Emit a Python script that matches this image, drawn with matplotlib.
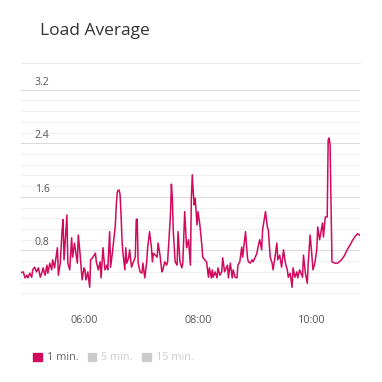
import matplotlib
matplotlib.use("Agg")
import matplotlib.pyplot as plt
import matplotlib.ticker as mticker
from matplotlib.patches import Patch
import numpy as np

plt.rcParams['font.family'] = ['Open Sans', 'DejaVu Sans']

# minutes since midnight, 1-min load average
minutes = [294, 296, 298, 300, 301, 303, 305, 306, 308, 310, 312, 314, 316, 317, 319, 321, 322, 324, 326, 327,
           329, 332, 333, 335, 337, 338, 339, 341, 342, 343, 345, 347, 348, 350, 353, 354, 356, 358, 360, 361,
           362, 364, 366, 367, 369, 372, 373, 375, 377, 378, 380, 382, 384, 385, 387, 388, 390, 393, 394, 395,
           396, 397, 398, 399, 400, 401, 403, 404, 405, 407, 408, 410, 412, 414, 415, 416, 417, 419, 421, 422,
           424, 426, 427, 429, 431, 432, 433, 435, 437, 438, 440, 442, 443, 445, 447, 448, 451, 452, 453, 454,
           456, 458, 459, 461, 463, 464, 466, 467, 468, 470, 472, 473, 474, 475, 476, 477, 479, 480, 482, 484,
           485, 487, 489, 491, 492, 494, 495, 496, 498, 500, 501, 503, 505, 506, 508, 511, 512, 514, 516, 517,
           519, 521, 522, 524, 526, 527, 530, 532, 533, 535, 537, 538, 540, 542, 543, 545, 547, 548, 551, 553,
           554, 556, 558, 559, 561, 563, 564, 566, 568, 570, 572, 574, 575, 577, 579, 580, 582, 584, 585, 587,
           590, 591, 593, 595, 596, 598, 600, 601, 603, 605, 606, 608, 611, 612, 614, 616, 617, 618, 619, 620,
           621, 624, 627, 631, 634, 637, 640, 643, 646, 648, 650]
load_1min = [0.47, 0.48, 0.39, 0.43, 0.39, 0.46, 0.40, 0.51, 0.55, 0.48, 0.54, 0.40, 0.48, 0.54, 0.43, 0.58, 0.46, 0.61, 0.51, 0.66,
             0.54, 0.84, 0.43, 0.61, 1.11, 1.26, 0.66, 1.11, 1.33, 0.61, 0.51, 0.99, 0.70, 0.91, 0.61, 1.03, 0.73, 0.36, 0.54, 0.51,
             0.36, 0.48, 0.25, 0.66, 0.69, 0.76, 0.63, 0.51, 0.63, 0.39, 0.84, 0.51, 0.58, 0.51, 1.08, 0.55, 0.78, 1.18, 1.48, 1.67,
             1.70, 1.70, 1.63, 1.33, 0.96, 0.76, 0.51, 0.84, 0.61, 0.69, 0.81, 0.55, 0.63, 0.70, 1.26, 1.27, 0.61, 0.48, 0.46, 0.61,
             0.39, 0.63, 0.84, 1.08, 0.84, 0.63, 0.76, 0.73, 0.70, 0.91, 0.73, 0.48, 0.51, 0.63, 0.58, 0.63, 1.33, 1.79, 1.58, 1.08,
             0.63, 0.58, 1.08, 0.63, 0.54, 0.61, 1.38, 1.11, 0.84, 0.96, 0.58, 1.58, 1.93, 1.67, 1.48, 1.58, 1.18, 1.38, 1.18, 0.88,
             0.70, 0.66, 0.63, 0.40, 0.54, 0.39, 0.51, 0.40, 0.48, 0.39, 0.54, 0.43, 0.48, 0.69, 0.48, 0.58, 0.39, 0.61, 0.39, 0.51,
             0.40, 0.39, 0.58, 0.63, 0.85, 0.70, 1.08, 0.70, 0.63, 0.61, 0.66, 0.63, 0.69, 0.76, 0.84, 0.96, 0.81, 1.11, 1.38, 1.15,
             1.11, 0.70, 0.61, 0.51, 0.70, 0.91, 0.66, 0.73, 0.55, 0.81, 0.61, 0.51, 0.40, 0.46, 0.25, 0.54, 0.40, 0.48, 0.39, 0.51,
             0.40, 0.73, 0.46, 0.31, 0.61, 1.03, 0.70, 0.51, 0.61, 0.81, 1.15, 0.96, 1.21, 1.00, 1.30, 1.30, 2.45, 2.48, 2.38, 1.55,
             0.63, 0.61, 0.61, 0.66, 0.72, 0.81, 0.88, 0.96, 1.02, 1.05, 1.03]
xtick_minutes = [360, 480, 600]
xtick_labels = ['06:00', '08:00', '10:00']
ytick_values = [0.8, 1.6, 2.4, 3.2]
legend_labels = ['1 min.', '5 min.', '15 min.']

line_color = '#d10a5e'
off_color = '#cccccc'

fig = plt.figure(figsize=(3.82, 3.82), dpi=100)
ax = fig.add_axes([21 / 382, 78 / 382, 339 / 382, 241 / 382])

ax.plot(minutes, load_1min, color=line_color, lw=1.1, zorder=3)

ax.set_xlim(293.7, 650.5)
ax.set_ylim(0, 3.6)

# grid: labelled lines + fine lines in between
ax.yaxis.set_major_locator(mticker.FixedLocator(ytick_values))
ax.yaxis.set_minor_locator(mticker.FixedLocator(np.arange(0, 3.21, 0.16)))
ax.grid(axis='y', which='major', color='#dcdcdc', lw=0.8)
ax.grid(axis='y', which='minor', color='#f0f0f0', lw=0.8)
ax.set_axisbelow(True)
ax.tick_params(axis='y', which='both', length=0, labelleft=False)

for v in ytick_values:
    ax.annotate(f'{v:.1f}', xy=(0.041, v), xycoords=('axes fraction', 'data'),
                xytext=(0, 1.5), textcoords='offset points', va='bottom', ha='left',
                fontsize=7.6, color='#555555')

ax.set_xticks(xtick_minutes)
ax.set_xticklabels(xtick_labels)
ax.tick_params(axis='x', length=0, pad=8, labelsize=7.8, labelcolor='#555555')

for s in ['left', 'right', 'bottom']:
    ax.spines[s].set_visible(False)
ax.spines['top'].set_color('#e8e8e8')
ax.spines['top'].set_linewidth(0.8)

fig.text(40 / 382, 1 - 31 / 382, 'Load Average', fontsize=12.5, color='#333333', va='center', ha='left')

handles = [Patch(color=line_color), Patch(color=off_color), Patch(color=off_color)]
leg = fig.legend(handles, legend_labels, loc='center left', bbox_to_anchor=(33 / 382, 1 - 358 / 382),
                 ncol=3, frameon=False, fontsize=7.8, handlelength=0.8, handleheight=0.8,
                 handletextpad=0.45, columnspacing=0.9, borderaxespad=0, borderpad=0)
for t, c in zip(leg.get_texts(), ['#666666', off_color, off_color]):
    t.set_color(c)

fig.savefig('out.png', dpi=100)
